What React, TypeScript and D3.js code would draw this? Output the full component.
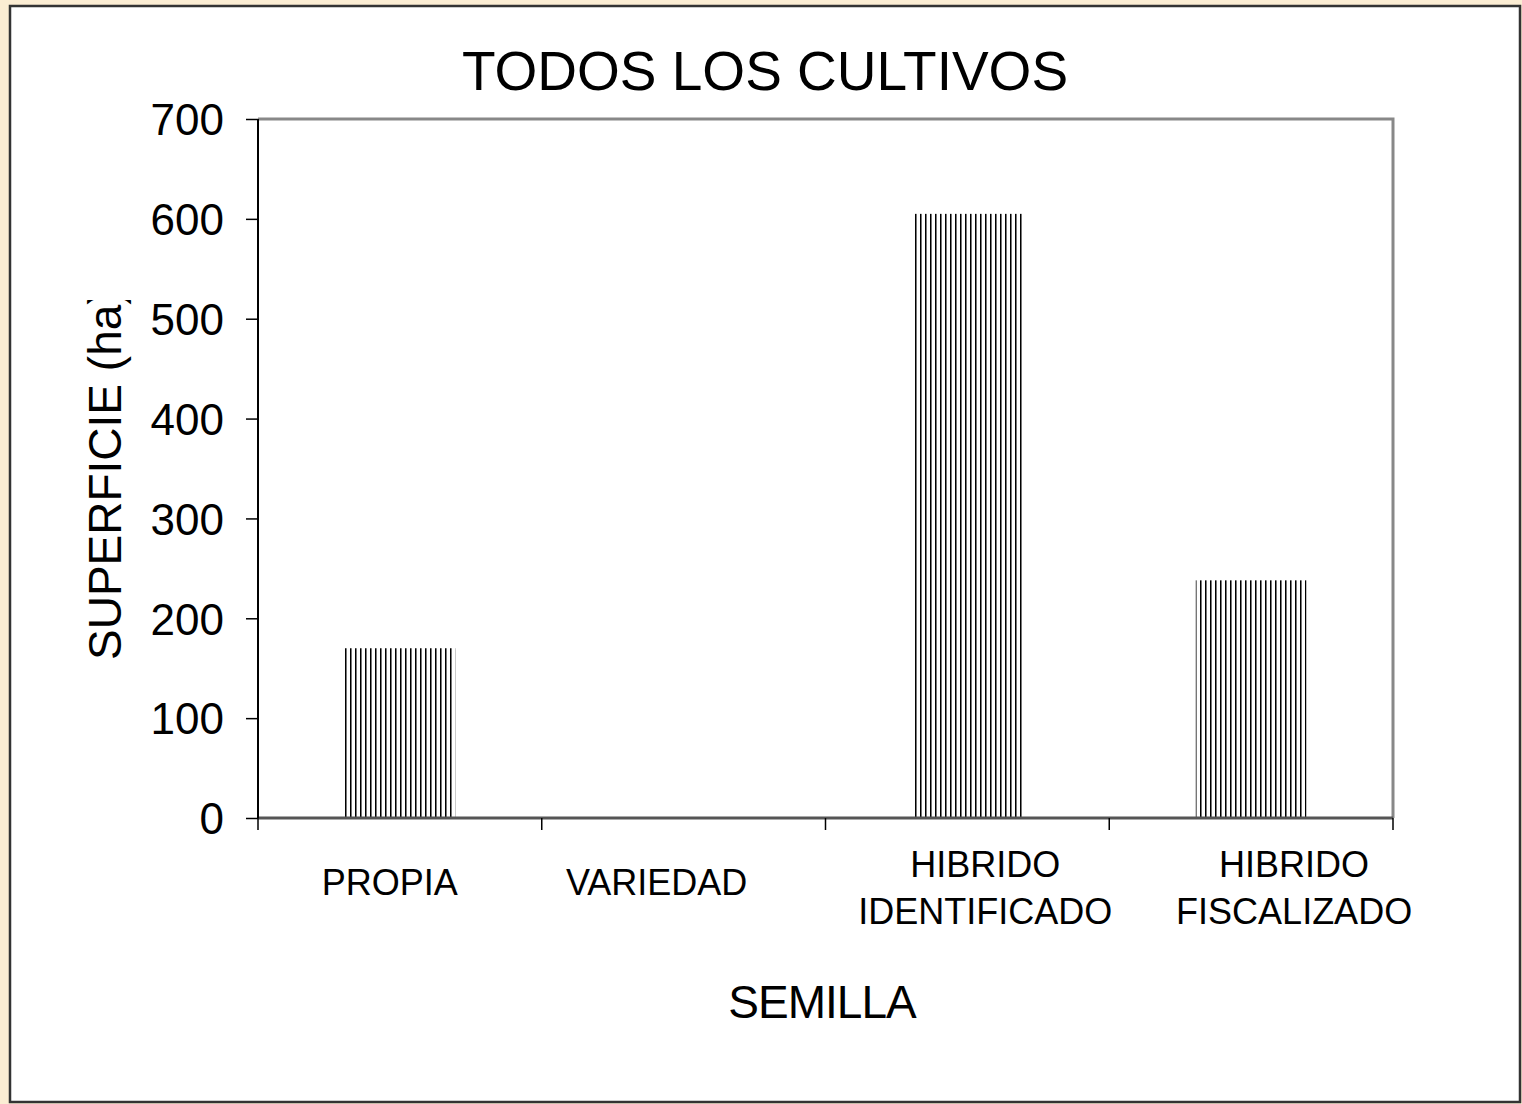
import React, { useEffect, useRef } from 'react';
import * as d3 from 'd3';

const categories = ['PROPIA', 'VARIEDAD', 'HIBRIDO IDENTIFICADO', 'HIBRIDO FISCALIZADO'];
const categoryLines = [['PROPIA'], ['VARIEDAD'], ['HIBRIDO', 'IDENTIFICADO'], ['HIBRIDO', 'FISCALIZADO']];
const values = [170, 0, 605, 238];
const yTicks = [0, 100, 200, 300, 400, 500, 600, 700];

const App: React.FC = () => {
  const ref = useRef<HTMLDivElement>(null);

  useEffect(() => {
    if (!ref.current) return;
    const width = 1522;
    const height = 1104;
    const font = 'Liberation Sans, Arial, sans-serif';

    // plot area
    const left = 258, right = 1393, top = 119, bottom = 818;
    // excel-ish label nudges relative to band centre
    const labelShift = [-10, -27, 18, 43];

    d3.select(ref.current).selectAll('*').remove();

    const svg = d3.select(ref.current)
      .append('svg')
      .attr('width', width)
      .attr('height', height)
      .style('display', 'block');

    const defs = svg.append('defs');
    const pat = defs.append('pattern')
      .attr('id', 'vlines')
      .attr('patternUnits', 'userSpaceOnUse')
      .attr('width', 5)
      .attr('height', 10);
    pat.append('rect').attr('width', 5).attr('height', 10).attr('fill', '#fff');
    pat.append('rect').attr('x', 0).attr('width', 1).attr('height', 10).attr('fill', '#000');
    pat.append('rect').attr('x', 1).attr('width', 1).attr('height', 10).attr('fill', '#777');

    defs.append('clipPath').attr('id', 'ylabclip')
      .append('rect').attr('x', 0).attr('y', 300).attr('width', 200).attr('height', 600);

    // page background and frame
    svg.append('rect').attr('width', width).attr('height', height).attr('fill', '#fbedd3');
    svg.append('rect')
      .attr('x', 10).attr('y', 6).attr('width', 1510).attr('height', 1096)
      .attr('fill', '#fff').attr('stroke', '#333').attr('stroke-width', 2.5);

    const x = d3.scaleBand().domain(categories).range([left, right]).paddingInner(0.61).paddingOuter(0.305);
    const y = d3.scaleLinear().domain([0, 700]).range([bottom, top]);

    // plot border (top + right)
    svg.append('path')
      .attr('d', `M${left},${top}H${right}V${bottom}`)
      .attr('fill', 'none').attr('stroke', '#888').attr('stroke-width', 3);

    // bars
    svg.append('g')
      .selectAll('rect')
      .data(values)
      .join('rect')
      .attr('x', (d, i) => x(categories[i])!)
      .attr('y', d => y(d))
      .attr('width', x.bandwidth())
      .attr('height', d => y(0) - y(d))
      .attr('fill', 'url(#vlines)');

    // baseline
    svg.append('line')
      .attr('x1', left).attr('x2', right).attr('y1', y(0)).attr('y2', y(0))
      .attr('stroke', '#555').attr('stroke-width', 3);

    // y axis
    const yAxis = svg.append('g')
      .attr('transform', `translate(${left},0)`)
      .call(d3.axisLeft(y).tickValues(yTicks).tickSize(12).tickPadding(22).tickFormat(d3.format('d')));
    yAxis.select('.domain').attr('stroke', '#000').attr('stroke-width', 2).attr('d', `M0,${top}V${bottom}`);
    yAxis.selectAll('.tick line').attr('stroke', '#000').attr('stroke-width', 1.5);
    yAxis.selectAll('.tick text')
      .attr('font-family', font).attr('font-size', 44).attr('fill', '#000').attr('dy', '0.36em');

    // x ticks at category boundaries
    const step = x.step();
    const bounds = d3.range(categories.length + 1).map(i => left + i * step);
    svg.append('g')
      .selectAll('line')
      .data(bounds)
      .join('line')
      .attr('x1', d => d).attr('x2', d => d)
      .attr('y1', bottom).attr('y2', bottom + 12)
      .attr('stroke', '#000').attr('stroke-width', 1.5);

    // category labels
    const labels = svg.append('g')
      .attr('font-family', font).attr('font-size', 36).attr('text-anchor', 'middle').attr('fill', '#000');
    categoryLines.forEach((lines, i) => {
      const cx = x(categories[i])! + x.bandwidth() / 2 + labelShift[i];
      const t = labels.append('text');
      const y0 = lines.length === 1 ? 895 : 877;
      lines.forEach((l, j) => {
        t.append('tspan').attr('x', cx).attr('y', y0 + j * 47).text(l);
      });
    });

    // title
    svg.append('text')
      .attr('x', 765).attr('y', 90)
      .attr('text-anchor', 'middle')
      .attr('font-family', font).attr('font-size', 55)
      .text('TODOS LOS CULTIVOS');

    // x axis title
    svg.append('text')
      .attr('x', 822).attr('y', 1018)
      .attr('text-anchor', 'middle')
      .attr('font-family', font).attr('font-size', 46)
      .attr('letter-spacing', -1)
      .text('SEMILLA');

    // y axis title (clipped at top like the original)
    svg.append('g').attr('clip-path', 'url(#ylabclip)')
      .append('text')
      .attr('transform', 'translate(121,660) rotate(-90)')
      .attr('font-family', font).attr('font-size', 46)
      .text('SUPERFICIE (ha)');
  }, []);

  return <div ref={ref} style={{ position: 'absolute', left: 0, top: 0 }}></div>;
};

export default App;
